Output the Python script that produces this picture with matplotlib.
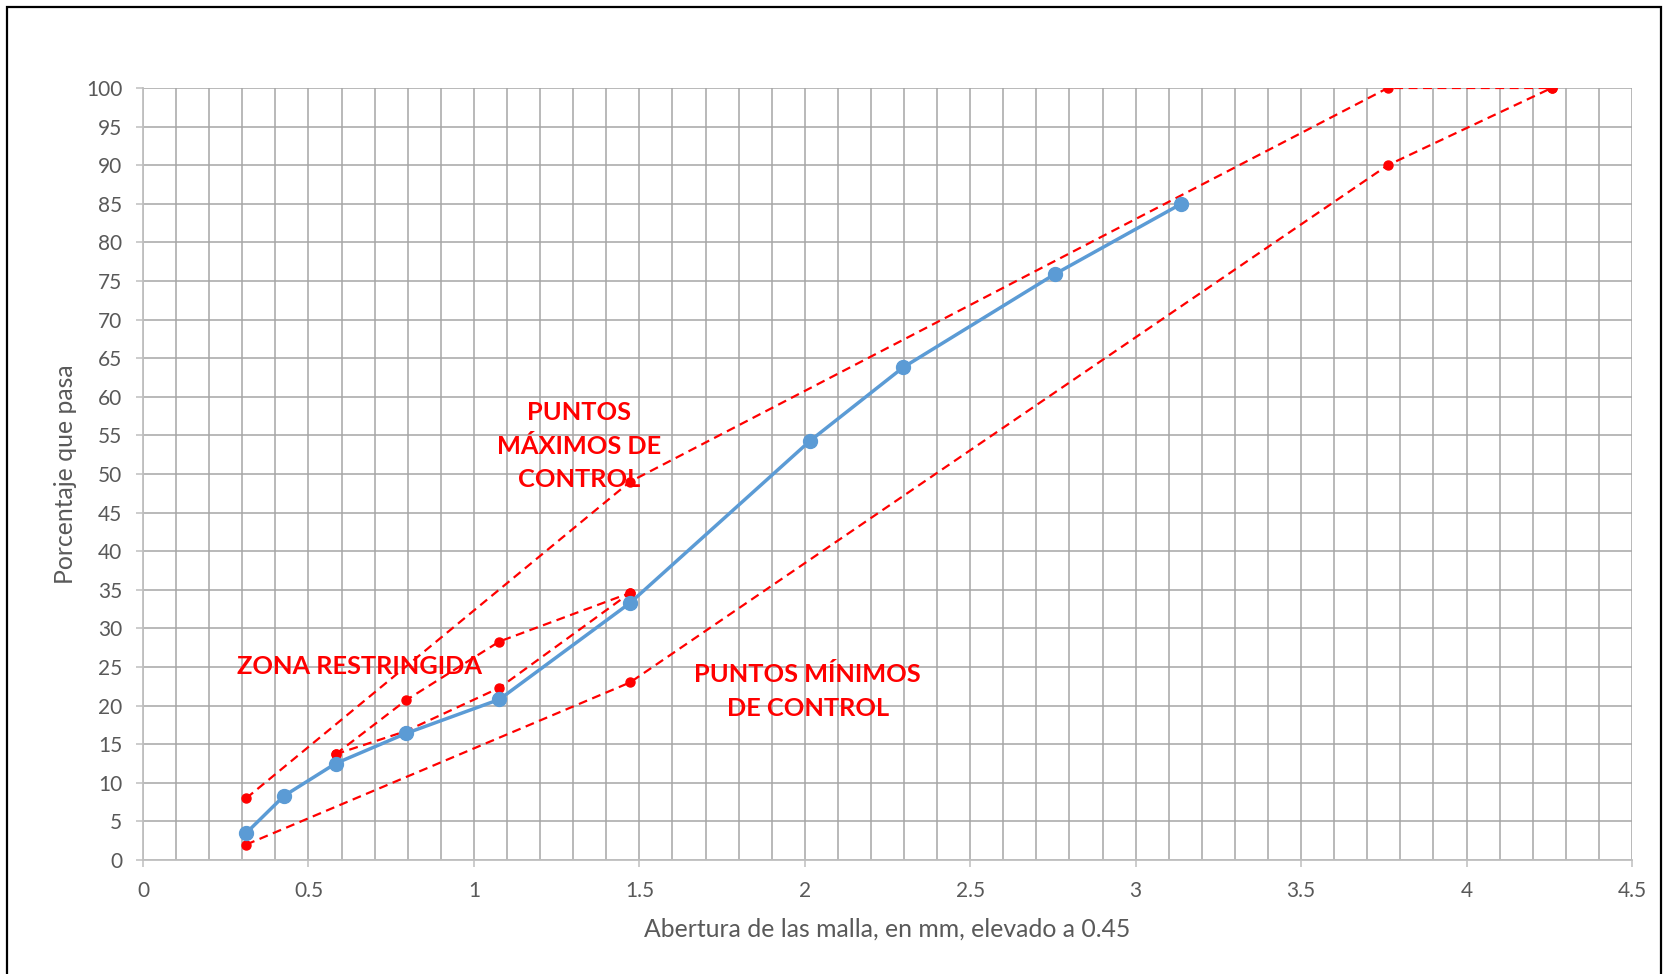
import matplotlib
matplotlib.use('Agg')
import matplotlib.pyplot as plt
from matplotlib.patches import Rectangle

plt.rcParams['font.family'] = ['Lato', 'DejaVu Sans']

# abertura de malla (mm) elevada a 0.45 y porcentaje que pasa
tamiz_x = [0.312, 0.426, 0.582, 0.795, 1.077, 1.472, 2.016, 2.297, 2.756, 3.138]
pasa = [3.5, 8.3, 12.5, 16.4, 20.8, 33.3, 54.3, 63.8, 75.9, 85.0]

# puntos de control
ctrl_x = [0.312, 1.472, 3.762, 4.257]
ctrl_max = [8, 49, 100, 100]
ctrl_min = [2, 23, 90, 100]

# zona restringida
zr_x = [0.582, 0.795, 1.077, 1.472]
zr_sup = [13.7, 20.7, 28.3, 34.6]
zr_inf = [13.7, 16.7, 22.3, 34.6]

x_ticks = [0, 0.5, 1, 1.5, 2, 2.5, 3, 3.5, 4, 4.5]
x_ticklabels = ['0', '0.5', '1', '1.5', '2', '2.5', '3', '3.5', '4', '4.5']
y_ticks = list(range(0, 101, 5))

red = '#ff0000'
blue = '#5b9bd5'
grey = '#a6a6a6'
text_grey = '#595959'

fig = plt.figure(figsize=(16.69, 9.74), dpi=100)
ax = fig.add_axes([143 / 1669, 1 - 860 / 974, (1632 - 143) / 1669, (860 - 88) / 974])

dash = dict(color=red, lw=1.6, linestyle=(0, (4, 2.5)), marker='o', markersize=6.5, zorder=3)
ax.plot(ctrl_x, ctrl_max, **dash)
ax.plot(ctrl_x, ctrl_min, **dash)
ax.plot(zr_x, zr_sup, **dash)
ax.plot(zr_x, zr_inf, **dash)

ax.plot(tamiz_x, pasa, color=blue, lw=2.5, marker='o', markersize=10, zorder=4)

ax.set_xlim(0, 4.5)
ax.set_ylim(0, 100)
ax.set_xticks(x_ticks)
ax.set_xticklabels(x_ticklabels)
ax.set_xticks([i / 10 for i in range(46)], minor=True)
ax.set_yticks(y_ticks)
ax.grid(True, which='both', axis='x', color=grey, lw=1.1, zorder=0)
ax.grid(True, which='major', axis='y', color=grey, lw=1.1, zorder=0)
ax.set_axisbelow(True)
ax.tick_params(axis='both', which='major', length=5, width=1.1, color='#bfbfbf',
               labelsize=15, labelcolor=text_grey, pad=10)
ax.tick_params(axis='x', which='minor', length=0)
for side in ['left', 'bottom']:
    ax.spines[side].set_color('#bfbfbf')
    ax.spines[side].set_linewidth(1.3)
for side in ['top', 'right']:
    ax.spines[side].set_visible(False)

ax.set_xlabel('Abertura de las malla, en mm, elevado a 0.45', fontsize=17.8, color=text_grey, labelpad=12)
ax.set_ylabel('Porcentaje que pasa', fontsize=17.8, color=text_grey, labelpad=6)

lbl = dict(color=red, fontsize=18.3, fontweight='bold', ha='center', va='center',
           linespacing=1.55, zorder=5)
ax.text(1.317, 53.6, 'PUNTOS\nMÁXIMOS DE\nCONTROL', **lbl)
ax.text(0.653, 25.0, 'ZONA RESTRINGIDA', **lbl)
ax.text(2.009, 21.8, 'PUNTOS MÍNIMOS\nDE CONTROL', **lbl)

# marco del grafico
fig.patches.append(Rectangle((7 / 1669, -0.01), (1661 - 7) / 1669, 1.01 - 7 / 974,
                             transform=fig.transFigure, fill=False, edgecolor='black', lw=1.6))

fig.savefig('out.png', dpi=100)
